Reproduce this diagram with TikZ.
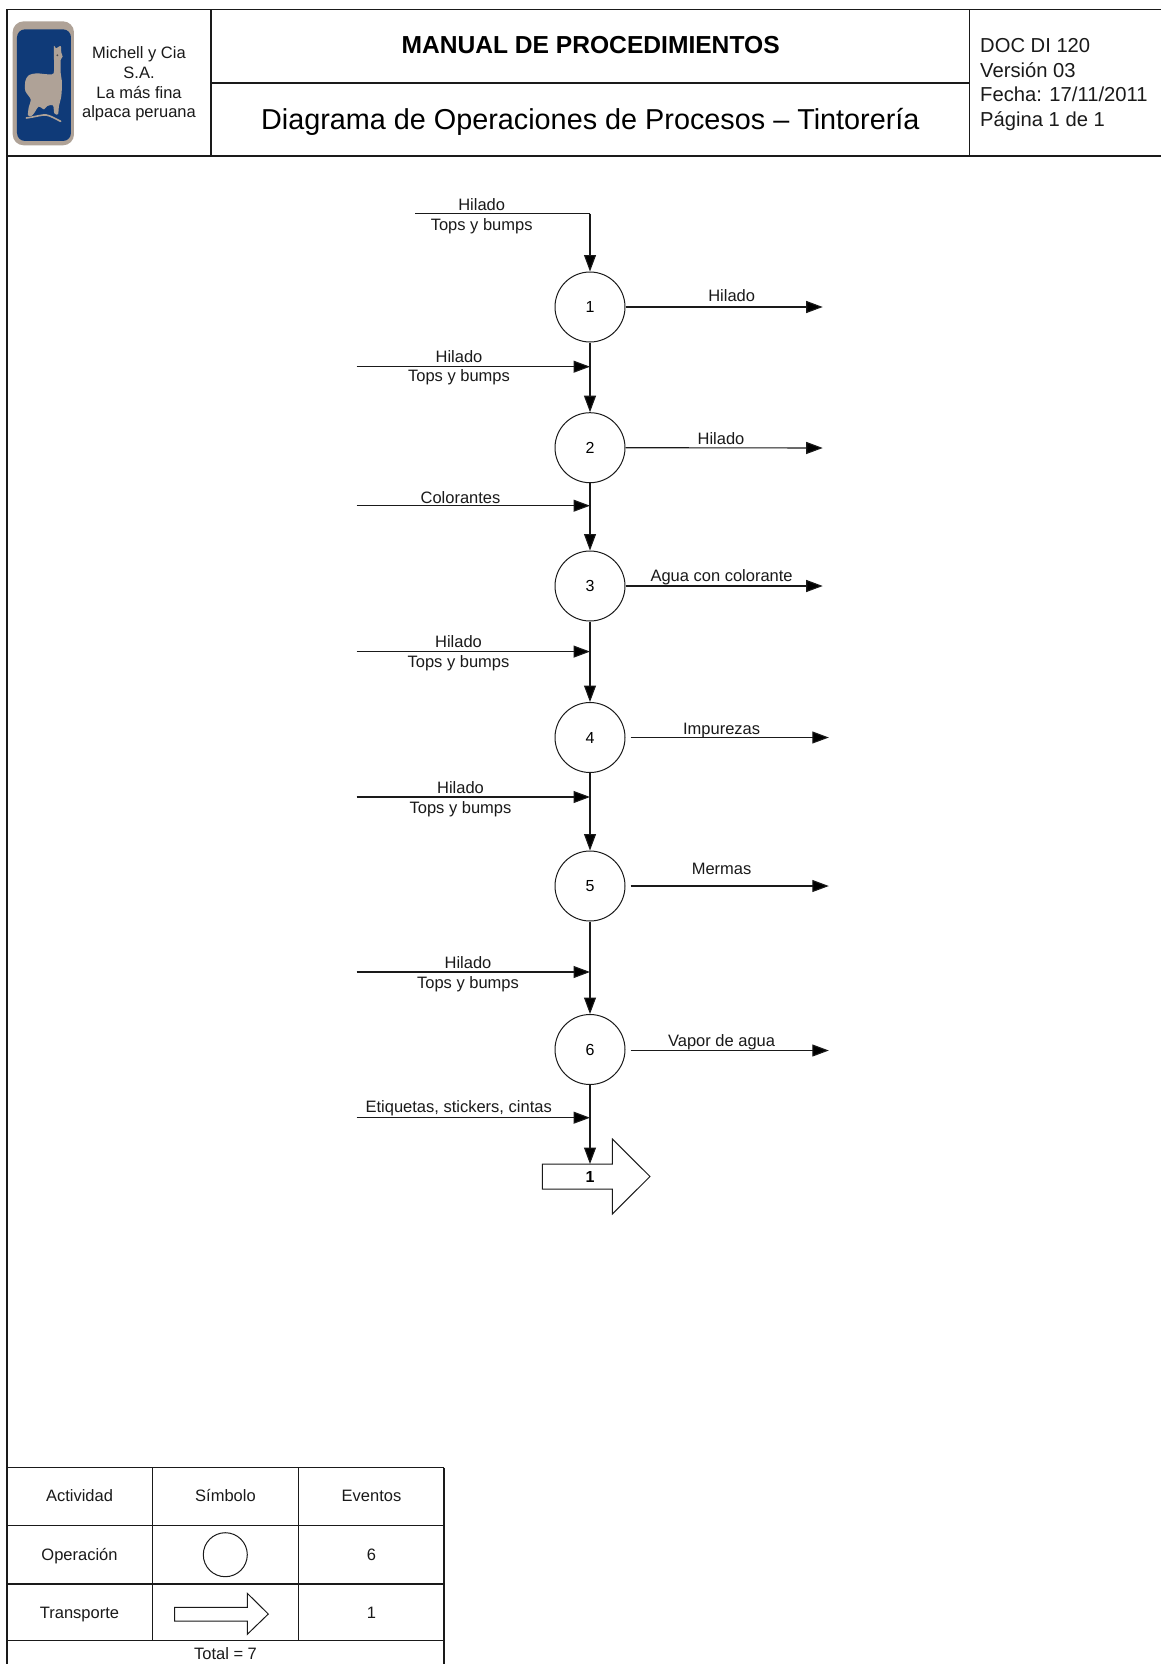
\documentclass[tikz,border=0pt]{standalone}
\usepackage{fontspec}
\setmainfont{Liberation Sans}
\usetikzlibrary{arrows.meta}
\definecolor{logonavy}{HTML}{0F3A78}
\definecolor{logotan}{HTML}{AFA297}
\definecolor{ink}{HTML}{1A1A1A}
\tikzset{
  rule/.style={draw=ink,line width=1.1pt},
  flow/.style={draw=ink,line width=1.1pt,-{Triangle[length=16.5pt,width=12pt,fill=black]}},
  plainline/.style={draw=ink,line width=1.1pt},
  opcircle/.style={circle,draw=ink,line width=1pt,minimum size=70pt,inner sep=0pt,font=\fontsize{16}{18}\selectfont},
  lbl/.style={inner sep=0pt,text height=16pt,text depth=3.5pt,text=ink,font=\fontsize{16.5}{18}\selectfont},
  doc/.style={anchor=west,inner sep=0pt,text height=16.5pt,text depth=4pt,text=ink,font=\fontsize{20.2}{22}\selectfont},
  arrowshape/.style={draw=ink,line width=1pt,fill=white},
}
\begin{document}
\begin{tikzpicture}[x=1pt,y=-1pt]
\useasboundingbox (0,0) rectangle (1161,1664);
\fill[white] (0,0) rectangle (1161,1664);
% frame
\draw[rule] (7,1664) -- (7,9.5) -- (1161,9.5);
\draw[rule] (7,156) -- (1161,156);
\draw[rule] (211,9.5) -- (211,156);
\draw[rule] (969.5,9.5) -- (969.5,156);
\draw[rule] (211,83) -- (969.5,83);
% logo
\begin{scope}[shift={(8,16)},x=0.3333pt,y=-0.3333pt]
  \fill[logotan] (14,16) [rounded corners=11pt] -- (198,16) -- (198,388) -- (14,388) -- cycle;
  \fill[logonavy] (27,40) [rounded corners=8pt] -- (189,40) -- (189,375) -- (27,375) -- cycle;
  \fill[logotan] plot[smooth cycle,tension=0.45] coordinates {(138,90) (144,97) (158,90) (160,110) (164,122) (158,132) (158,170) (162,200) (160,240) (153,270) (150,295) (139,292) (135,268) (118,270) (108,280) (92,272) (78,292) (70,300) (60,298) (62,275) (68,250) (52,225) (52,195) (62,178) (85,172) (120,175) (137,172) (138,130)};
  \draw[logotan,line width=1.6pt,line cap=round] (55,306) .. controls (85,302) and (105,295) .. (115,297) .. controls (130,300) and (145,310) .. (158,316);
  \fill[black!70] (148,118) circle (1pt);
\end{scope}
\node[lbl] (co1) at (139,52) {Michell y Cia};
\node[lbl] (co2) at (139,72.5) {S.A.};
\node[lbl] (co3) at (139,92) {La más fina};
\node[lbl] (co4) at (139,111) {alpaca peruana};
\node[inner sep=0pt,text=black,font=\fontsize{24.6}{27}\bfseries\selectfont] (title1) at (590.6,45) {MANUAL DE PROCEDIMIENTOS};
\node[inner sep=0pt,text=black,font=\fontsize{28.8}{32}\selectfont] (title2) at (590.3,122) {Diagrama de Operaciones de Procesos – Tintorería};
\node[doc] (d1) at (980,46) {DOC DI 120};
\node[doc] (d2) at (980,71.5) {Versión 03};
\node[doc] (d3) at (980,95) {Fecha: 17/11/2011};
\node[doc] (d4) at (980,120) {Página 1 de 1};
% operations
\node[opcircle] (c1) at (590,307) {1};
\node[opcircle] (c2) at (590,447.7) {2};
\node[opcircle] (c3) at (590,586) {3};
\node[opcircle] (c4) at (590,737.5) {4};
\node[opcircle] (c5) at (590,886) {5};
\node[opcircle] (c6) at (590,1049.5) {6};
% transport
\draw[arrowshape] (542.3,1164) -- (612.3,1164) -- (612.3,1139) -- (650,1176.5) -- (612.3,1214) -- (612.3,1189) -- (542.3,1189) -- cycle;
\coordinate (t1) at (590,1164);
\node[inner sep=0pt,font=\fontsize{16}{18}\bfseries\selectfont] (t1lab) at (590,1176.5) {1};
% vertical connectors
\coordinate (top) at (415,213.7);
\draw[plainline] (top) -- (top -| c1);
\draw[flow] (top -| c1) -- (c1.north);
\draw[flow] (c1) -- (c2);
\draw[flow] (c2) -- (c3);
\draw[flow] (c3) -- (c4);
\draw[flow] (c4) -- (c5);
\draw[flow] (c5) -- (c6);
\draw[flow] (c6) -- (t1);
% inputs
\coordinate (i1) at (356.5,366.7);
\coordinate (i2) at (356.5,505.7);
\coordinate (i3) at (356.5,651.6);
\coordinate (i4) at (356.5,797);
\coordinate (i5) at (356.5,972);
\coordinate (i6) at (356.5,1117.7);
\draw[flow] (i1) -- (i1 -| c1);
\draw[flow] (i2) -- (i2 -| c1);
\draw[flow] (i3) -- (i3 -| c1);
\draw[flow] (i4) -- (i4 -| c1);
\draw[flow] (i5) -- (i5 -| c1);
\draw[flow] (i6) -- (i6 -| c1);
% outputs
\coordinate (o1) at (822.7,307);
\coordinate (o2) at (822.7,448);
\coordinate (o3) at (822.7,586);
\coordinate (s4) at (630.5,737.5);
\coordinate (s5) at (630.5,886);
\coordinate (s6) at (630.5,1050.5);
\coordinate (o4) at (828.8,737.5);
\coordinate (o5) at (828.8,886);
\coordinate (o6) at (828.8,1050.5);
\draw[flow] (c1.east) -- (o1);
\draw[flow] (c2.east) -- (o2);
\draw[flow] (c3.east) -- (o3);
\draw[flow] (s4) -- (o4);
\draw[flow] (s5) -- (o5);
\draw[flow] (s6) -- (o6);
% labels
\node[lbl] (l1) at (481.7,204) {Hilado};
\node[lbl] (l2) at (481.7,224.5) {Tops y bumps};
\node[lbl] (l3) at (731.7,295.5) {Hilado};
\node[lbl] (l4) at (459,356) {Hilado};
\node[lbl] (l5) at (459,375.5) {Tops y bumps};
\node[lbl] (l6) at (721,438.5) {Hilado};
\node[lbl] (l7) at (460.5,497) {Colorantes};
\node[lbl] (l8) at (721.6,575.5) {Agua con colorante};
\node[lbl] (l9) at (458.5,641) {Hilado};
\node[lbl] (l10) at (458.5,661) {Tops y bumps};
\node[lbl] (l11) at (721.6,728) {Impurezas};
\node[lbl] (l12) at (460.5,787.5) {Hilado};
\node[lbl] (l13) at (460.5,807.5) {Tops y bumps};
\node[lbl] (l14) at (721.6,868) {Mermas};
\node[lbl] (l15) at (468,962.5) {Hilado};
\node[lbl] (l16) at (468,982.5) {Tops y bumps};
\node[lbl] (l17) at (721.6,1040) {Vapor de agua};
\node[lbl] (l18) at (458.7,1106.5) {Etiquetas, stickers, cintas};
% table
\draw[rule] (7,1467.5) -- (444,1467.5);
\draw[rule] (7,1525.5) -- (444,1525.5);
\draw[rule] (7,1584) -- (444,1584);
\draw[rule] (7,1640.5) -- (444,1640.5);
\draw[rule] (152.5,1467.5) -- (152.5,1640.5);
\draw[rule] (298.5,1467.5) -- (298.5,1640.5);
\draw[rule] (444,1467.5) -- (444,1664);
\node[lbl] (h1) at (79.5,1495.5) {Actividad};
\node[lbl] (h2) at (225.5,1495.5) {Símbolo};
\node[lbl] (h3) at (371.5,1495.5) {Eventos};
\node[lbl] (r1) at (79.5,1554.5) {Operación};
\node[lbl] (r1n) at (371.5,1554.5) {6};
\node[lbl] (r2) at (79.5,1612.5) {Transporte};
\node[lbl] (r2n) at (371.5,1612.5) {1};
\node[lbl] (tot) at (225.5,1653) {Total = 7};
\node[circle,draw=ink,line width=1pt,minimum size=44pt,inner sep=0pt] (symc) at (225.3,1554.7) {};
\draw[arrowshape] (174.7,1607.3) -- (247.3,1607.3) -- (247.3,1593.3) -- (268.3,1614) -- (247.3,1634.3) -- (247.3,1621) -- (174.7,1621) -- cycle;
\end{tikzpicture}
\end{document}
